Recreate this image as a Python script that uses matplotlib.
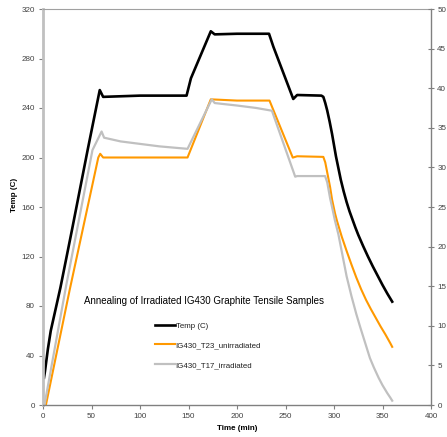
import matplotlib
matplotlib.use("Agg")
import matplotlib.pyplot as plt

plt.rcParams['font.family'] = ['Liberation Sans', 'DejaVu Sans']

# Temp (C) - black
temp_t = [1, 2, 5, 8, 18, 30, 46, 58.5, 62, 100, 148, 152.5, 173, 177, 200, 233, 237.5, 258, 262, 287,
          289, 291, 293, 295.5, 298, 302, 307, 310, 313, 316, 319, 322, 325, 330, 335, 340, 345, 350, 355, 360]
temp_v = [22, 27, 45, 60, 95, 142, 206, 254.5, 249, 250, 250, 264, 302, 299.5, 300, 300, 289.5, 247.3, 250.5, 250,
          249, 244, 238, 229, 219, 201, 182, 172.5, 164, 156.5, 150, 143.5, 137.5, 128.5, 120, 112, 104.5, 97, 90, 83.5]

# IG430_T23_unirradiated - orange
t23_t = [3, 27.5, 57, 59, 62, 100, 149, 173, 200, 233.5, 257.5, 262, 289, 291, 293, 296, 298, 301, 303, 308, 313,
         318, 323, 328, 333, 338, 343, 348, 353, 358, 360]
t23_v = [0, 93, 200, 203, 200, 200, 200, 247, 246, 246, 199.9, 201, 200.5, 196, 188, 176, 166, 155, 149, 136, 124.5,
         113.5, 103, 93.5, 85, 77.5, 70.5, 63.5, 57, 50, 47]

# IG430_T17_irradiated - gray
t17_t = [1.5, 24, 51, 60.4, 63, 80, 100, 120, 149, 174, 177, 200, 220, 236, 260, 262, 290.8, 293, 296, 298, 301,
         304.5, 308, 313, 318, 323, 327, 332, 337, 341, 346, 350, 355, 358, 360]
t17_v = [0, 97, 206, 221, 216, 213, 211, 209, 207, 247, 244, 242, 240, 237.8, 184.5, 185, 185, 180, 167, 160, 149,
         138, 124, 104, 88, 73.5, 63, 50.5, 38, 30.5, 22, 16, 9.5, 6, 3.5]

x_ticks = [0, 50, 100, 150, 200, 250, 300, 350, 400]
y_ticks = [0, 40, 80, 120, 160, 200, 240, 280, 320]
y2_ticks = [0, 5, 10, 15, 20, 25, 30, 35, 40, 45, 50]

title = "Annealing of Irradiated IG430 Graphite Tensile Samples"

W, H = 447, 437
fig = plt.figure(figsize=(W / 100, H / 100), dpi=100)
ax = fig.add_axes([43 / W, 1 - 405 / H, (431 - 43) / W, (405 - 9) / H])

ax.plot(temp_t, temp_v, color='black', lw=1.9, label='Temp (C)', solid_joinstyle='round')
ax.plot(t23_t, t23_v, color='#FF9900', lw=1.5, label='IG430_T23_unirradiated', solid_joinstyle='round')
ax.plot(t17_t, t17_v, color='#C0C0C0', lw=1.6, label='IG430_T17_irradiated', solid_joinstyle='round')

ax.set_xlim(0, 400)
ax.set_ylim(0, 320)
ax.set_xticks(x_ticks)
ax.set_yticks(y_ticks)

tick_col = '#404040'
ax.tick_params(axis='both', labelsize=5.8, colors=tick_col, length=3, width=0.8, direction='out', pad=3)
ax.tick_params(axis='y', color='#808080')
ax.tick_params(axis='x', color='#808080')

ax.spines['left'].set_color('#C0C0C0')
ax.spines['left'].set_linewidth(2.0)
ax.spines['bottom'].set_color('#808080')
ax.spines['bottom'].set_linewidth(1.0)
ax.spines['top'].set_color('#A0A0A0')
ax.spines['top'].set_linewidth(0.8)
ax.spines['right'].set_visible(False)

ax2 = ax.twinx()
ax2.set_ylim(0, 50)
ax2.set_yticks(y2_ticks)
ax2.tick_params(axis='y', labelsize=5.8, colors=tick_col, length=5, width=0.8, direction='inout', pad=2)
ax2.tick_params(axis='y', color='#808080')
for s in ['left', 'top', 'bottom']:
    ax2.spines[s].set_visible(False)
ax2.spines['right'].set_color('#808080')
ax2.spines['right'].set_linewidth(1.0)

ax.set_xlabel('Time (min)', fontsize=5.8, fontweight='bold', color='black')
ax.xaxis.set_label_coords((237 - 43) / (431 - 43), (405 - 425) / 396)
ax.set_ylabel('Temp (C)', fontsize=5.8, fontweight='bold', color='black')
ax.yaxis.set_label_coords((18 - 43) / (431 - 43), (405 - 195) / 396)

fig.text(84 / W, 1 - 301 / H, title, fontsize=7.0, color='black', ha='left', va='center')

leg = ax.legend(loc='upper left', bbox_to_anchor=(155 / W, 1 - 322 / H), bbox_transform=fig.transFigure,
                frameon=False, fontsize=5.7, handlelength=2.5, handletextpad=0.1, labelspacing=1.53,
                borderpad=0, borderaxespad=0)
for t in leg.get_texts():
    t.set_color('#202020')

fig.savefig('out.png', dpi=100)
